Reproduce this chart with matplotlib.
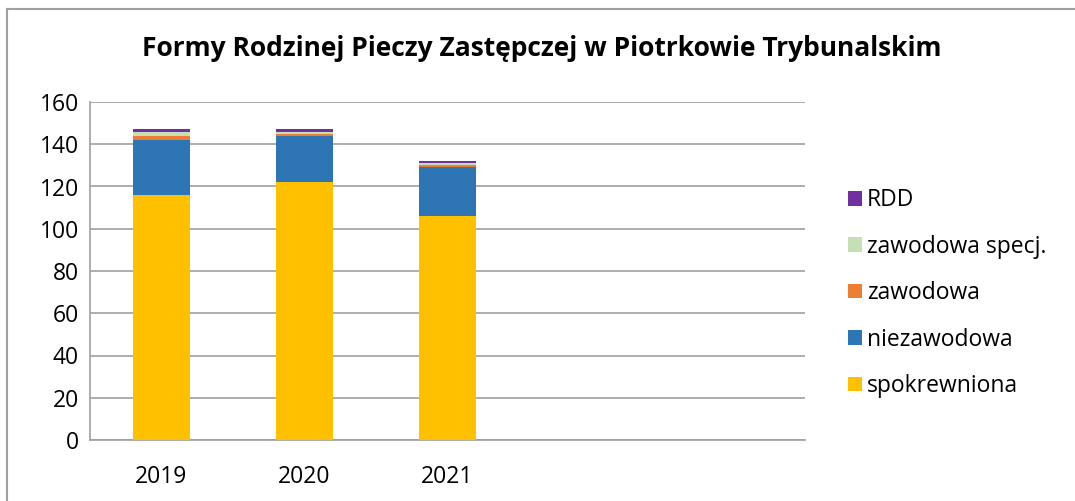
import matplotlib
matplotlib.use("Agg")
import matplotlib.pyplot as plt
from matplotlib.patches import Patch
from matplotlib.lines import Line2D

plt.rcParams['font.family'] = ['Open Sans', 'DejaVu Sans']

categories = ["2019", "2020", "2021", "", ""]
series_names = ["spokrewniona", "niezawodowa", "zawodowa", "zawodowa specj.", "RDD"]
spokrewniona = [116, 122, 106]
niezawodowa = [26, 22, 23]
zawodowa = [2, 1, 1]
zawodowa_specj = [2, 1, 1]
rdd = [1, 1, 1]
colors = ["#FFC000", "#2E75B6", "#ED7D31", "#C5E0B4", "#7030A0"]
yticks = [0, 20, 40, 60, 80, 100, 120, 140, 160]
title = "Formy Rodzinej Pieczy Zastępczej w Piotrkowie Trybunalskim"

fig = plt.figure(figsize=(10.75, 5.01), dpi=100)
ax = fig.add_axes([90/1075, 61/501, 715/1075, 338/501])

series = [spokrewniona, niezawodowa, zawodowa, zawodowa_specj, rdd]
x = list(range(len(spokrewniona)))
bottom = [0]*len(x)
handles = []
for name, vals, c in zip(series_names, series, colors):
    ax.bar(x, vals, width=0.4, bottom=bottom, color=c, edgecolor='none', zorder=3)
    bottom = [b+v for b, v in zip(bottom, vals)]
    handles.append(Patch(facecolor=c, edgecolor='none', label=name))

ax.set_xlim(-0.5, len(categories)-0.5)
ax.set_ylim(0, 160)
ax.set_yticks(yticks)
ax.set_xticks(range(len(categories)))
ax.set_xticklabels(categories)
ax.tick_params(axis='both', length=0, labelsize=16.5, colors='black')
ax.tick_params(axis='y', pad=8)
ax.tick_params(axis='x', pad=18)
ax.yaxis.grid(True, color='#A0A0A0', linewidth=1.2, zorder=0)
for s in ['top', 'right']:
    ax.spines[s].set_visible(False)
for s in ['left', 'bottom']:
    ax.spines[s].set_color('#A0A0A0')
    ax.spines[s].set_linewidth(1.2)

fig.text(542/1075, 1 - 48/501, title, ha='center', va='center', fontsize=19, fontweight='bold')

leg = fig.legend(handles=handles[::-1], loc='upper left', bbox_to_anchor=(839/1075, 1 - 179/501),
                 frameon=False, fontsize=16.5, handlelength=0.62, handleheight=0.62,
                 handletextpad=0.2, labelspacing=0.98, borderaxespad=0)

# outer frame
fig.add_artist(Line2D([7/1075, 1], [1 - 9/501, 1 - 9/501], color='#A0A0A0', linewidth=1.5, transform=fig.transFigure))
fig.add_artist(Line2D([7/1075, 7/1075], [0, 1 - 9/501], color='#A0A0A0', linewidth=1.5, transform=fig.transFigure))

fig.savefig("out.png", dpi=100)
